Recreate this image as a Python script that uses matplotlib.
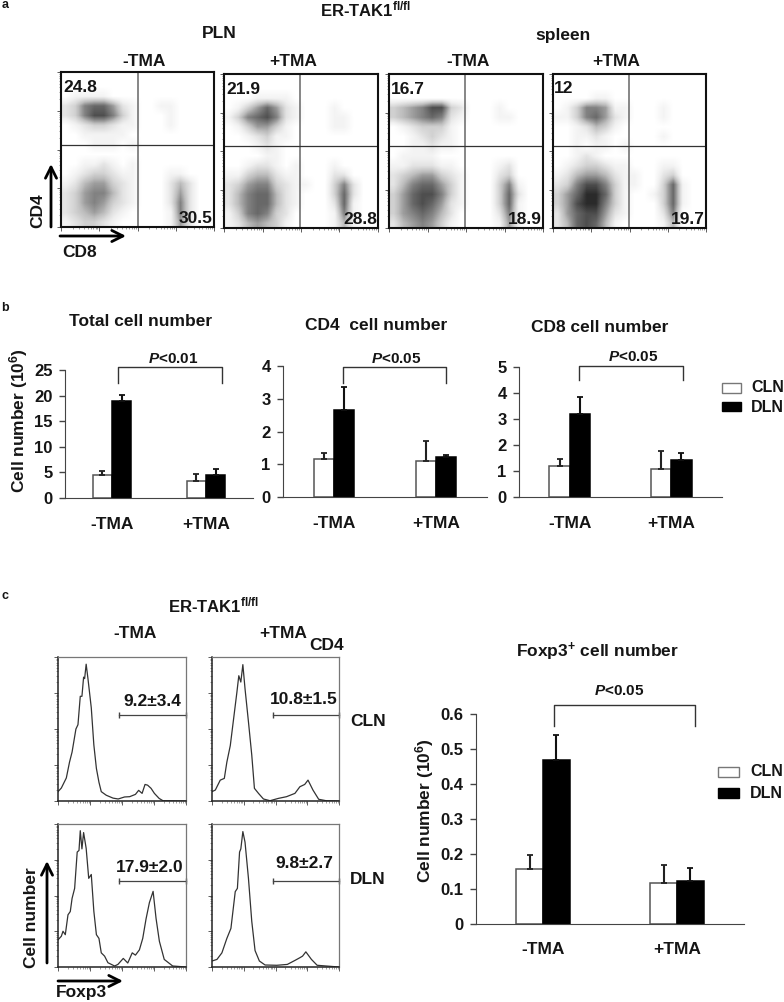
import numpy as np
import matplotlib
matplotlib.use('Agg')
import matplotlib.pyplot as plt
from matplotlib.patches import Rectangle

plt.rcParams['font.family'] = ['Liberation Sans', 'DejaVu Sans']
plt.rcParams['font.weight'] = 'bold'
plt.rcParams['mathtext.fontset'] = 'custom'
plt.rcParams['mathtext.rm'] = 'Liberation Sans:bold'
plt.rcParams['mathtext.bf'] = 'Liberation Sans:bold'
plt.rcParams['mathtext.it'] = 'Liberation Sans:italic:bold'

W, H = 784, 1002
INK = '#151515'

# --- panel a: the single cytometry dots cannot be read one by one, so each
# plot is kept as a coarse density grid estimated by eye (digits 0-9) ---
pln_minus = ["0000000000000000", "0000000000000000", "0111100000000000", "2367752100110000",
             "2368863100010000", "0123321100010000", "0011111000000000", "0001110100000000",
             "0000000000000000", "0011210100000000", "0123321100011000", "1245532100024200",
             "2356642100025200", "2356532100026200", "2345421000016200", "1233210000015200"]
pln_plus = ["0000000000000000", "0000000000000000", "0001111000000000", "0135752100010000",
            "1367862100011000", "0135531000011000", "0012311000000000", "0001210000000000",
            "0000110000000000", "0012210100010000", "1134421100022000", "2356632110036200",
            "2467742100037200", "2467742100027100", "1367632000016100", "1245431000014100"]
spleen_minus = ["0000000000000000", "0000000000000000", "0000000000000000", "3456883200010000",
                "3456762100011000", "0123331000000000", "0012321000000000", "0011211000000000",
                "0111100000000000", "1122211000012000", "2345532100023000", "2467753100036100",
                "3578863100037200", "3578752100037100", "3567642000026100", "2456531000015100"]
spleen_plus = ["0000000000000000", "0000000000000000", "0000110000000000", "0136651100010000",
               "1136752100010000", "0012431000000000", "0011210000010000", "0010110100000000",
               "0012100000000000", "0123321100011000", "1245542110023000", "2368863110037100",
               "3579973100137100", "3589963100037100", "2578852100026000", "2478741000014000"]
flow_grids = [pln_minus, pln_plus, spleen_minus, spleen_plus]
flow_boxes = [(61, 72, 214, 227), (224, 74, 378, 228), (389, 74, 543, 228), (553, 74, 706, 228)]
flow_quads = [(50, 53), (49.5, 53), (49.5, 53), (49.5, 53)]
flow_upper = ['24.8', '21.9', '16.7', '12']
flow_lower = ['30.5', '28.8', '18.9', '19.7']

# --- panel b / c bars ---
groups = ['-TMA', '+TMA']
total_cln, total_cln_err = [4.5, 3.4], [0.8, 1.2]
total_dln, total_dln_err = [19.0, 4.5], [1.2, 1.1]
cd4_cln, cd4_cln_err = [1.15, 1.1], [0.2, 0.62]
cd4_dln, cd4_dln_err = [2.65, 1.23], [0.7, 0.05]
cd8_cln, cd8_cln_err = [1.2, 1.07], [0.25, 0.71]
cd8_dln, cd8_dln_err = [3.2, 1.43], [0.65, 0.25]
foxp3_cln, foxp3_cln_err = [0.157, 0.116], [0.039, 0.052]
foxp3_dln, foxp3_dln_err = [0.47, 0.122], [0.07, 0.038]

# --- panel c histograms, percent of the plot box ---
h1_x = [0, 2.6, 6.5, 9, 11, 14, 15.6, 17.4, 18.7, 20, 20.8, 22, 23.4, 26, 28, 30, 32, 33.8, 37.7, 43, 47, 52, 56, 60.5, 63, 65.7, 68, 70, 72.7, 75.3, 79, 82, 100]
h1_y = [6.5, 9, 16, 27, 34, 50, 53, 72.7, 72.7, 86, 85, 95, 85, 64.7, 39, 22.6, 13, 6.5, 4, 2, 1.4, 2.8, 3, 4.6, 7.4, 5.3, 11.5, 11, 8.8, 5.3, 1.8, 0.2, 0]
h2_x = [0, 2.6, 6.5, 9.7, 11.7, 14.4, 17, 19.6, 21.1, 22.7, 24.3, 26, 28.7, 31.3, 33.4, 36.6, 40.5, 45.7, 52.2, 58.7, 65.3, 69.2, 73, 75.6, 79.5, 84, 89.9, 100]
h2_y = [6.5, 7.6, 14.5, 15.7, 27, 38.5, 57, 75.5, 87, 82.6, 94.7, 78, 55, 32, 8.8, 5.3, 1.4, 0.2, 1.8, 3, 5.3, 9.9, 11.5, 14.5, 7.6, 1.2, 0.2, 0]
h3_x = [0, 2.6, 3.9, 5.7, 7.8, 9.6, 11, 13, 15, 16.4, 17.4, 18.7, 20, 22, 24, 26, 28, 30, 32, 33.8, 36.4, 39, 44.2, 46.8, 51, 54.5, 58, 60.5, 63.6, 66.2, 68.8, 71.4, 74.3, 76.6, 79.2, 83, 89.6, 100]
h3_y = [19, 21.5, 25, 22.6, 36.5, 38.8, 48, 55, 80.4, 81.5, 95.3, 82.6, 94, 83, 62, 64.7, 39, 22.6, 20, 9.9, 7.6, 3, 0.7, 1.8, 6, 2.8, 9.9, 8.3, 12, 20, 33.7, 45, 52.9, 34, 18, 5.3, 0.7, 0]
h4_x = [0, 3.9, 7.8, 11.7, 14.9, 18.3, 20, 21.7, 22.7, 24.3, 26, 28.7, 31.3, 33.9, 37.3, 41.8, 51, 59.3, 65.3, 69.2, 71.3, 73.9, 78.3, 82.8, 100]
h4_y = [4.2, 5.3, 9.9, 20, 27, 52.7, 55, 80.4, 82.6, 94.7, 87.3, 62, 32, 11.5, 4.2, 1.4, 1.2, 1.8, 4.6, 6.5, 7.6, 10.6, 5.3, 1.2, 0]
hist_x = [h1_x, h2_x, h3_x, h4_x]
hist_y = [h1_y, h2_y, h3_y, h4_y]
hist_boxes = [(58, 657, 186, 801), (212, 657, 339, 801), (58, 824, 186, 967), (212, 824, 339, 967)]
gate_labels = ['9.2±3.4', '10.8±1.5', '17.9±2.0', '9.8±2.7']
gate_text_pos = [(152, 702), (304, 699), (150, 867), (304, 864)]

fig = plt.figure(figsize=(W / 100, H / 100), dpi=100)


def px_axes(left, top, right, bottom):
    return fig.add_axes([left / W, 1 - bottom / H, (right - left) / W, (bottom - top) / H])


# overlay in image pixels for all the loose labels, brackets and arrows
page = fig.add_axes([0, 0, 1, 1], zorder=5)
page.set_xlim(0, W)
page.set_ylim(H, 0)
page.axis('off')


def label(x, y, s, size=12.5, **kw):
    page.text(x, y, s, fontsize=size, ha=kw.pop('ha', 'center'), va=kw.pop('va', 'center'),
              color=INK, fontweight='bold', **kw)


def arrow(x0, y0, x1, y1):
    page.annotate('', xy=(x1, y1), xytext=(x0, y0),
                  arrowprops=dict(arrowstyle='->', lw=2, color='black', mutation_scale=20,
                                  shrinkA=0, shrinkB=0))


log_minor = np.log10(np.arange(2, 10)) * 25
log_ticks = np.concatenate([log_minor + d for d in (0, 25, 50, 75)])


def cyto_ticks(ax):
    ax.set_xlim(0, 100)
    ax.set_ylim(0, 100)
    ax.set_xticks([0, 25, 50, 75, 100])
    ax.set_yticks([0, 25, 50, 75, 100])
    ax.set_xticks(log_ticks, minor=True)
    ax.set_yticks(log_ticks, minor=True)
    ax.set_xticklabels([])
    ax.set_yticklabels([])
    ax.tick_params(which='major', length=3, width=0.6, color='#444444')
    ax.tick_params(which='minor', length=1.5, width=0.4, color='#555555')


# panel a
for grid, box, quad, up, low in zip(flow_grids, flow_boxes, flow_quads, flow_upper, flow_lower):
    ax = px_axes(*box)
    dens = np.array([[int(c) for c in row] for row in grid], dtype=float)
    ax.imshow(dens, extent=(0, 100, 0, 100), cmap='Greys', vmin=0, vmax=10.5,
              interpolation='bilinear', aspect='auto')
    ax.axvline(quad[0], color='#666666', lw=1.1)
    ax.axhline(quad[1], color='#333333', lw=0.9)
    cyto_ticks(ax)
    for s in ax.spines.values():
        s.set_linewidth(1.5)
        s.set_color('#111111')
    if up == '12':
        label(box[0] + 11, box[1] + 14, up)
    else:
        label(box[0] + 19, box[1] + 15, up)
    label(box[2] - 18, box[3] - 9, low)

label(5, 5, 'a', size=9)
label(365, 9, r'ER-TAK1$^{\mathbf{fl/fl}}$', size=12)
label(219, 33, 'PLN')
label(563, 35, 'spleen')
for x, s in zip((144, 293, 468, 616), ('-TMA', '+TMA', '-TMA', '+TMA')):
    label(x, 61, s)
label(38, 211, 'CD4', rotation=90)
label(80, 252, 'CD8')
arrow(51, 227, 51, 164)
arrow(60, 236, 126, 236)


def bar_panel(box, ymax, yticks, cln, cln_err, dln, dln_err, width=0.2, pad=14):
    ax = px_axes(*box)
    x = np.arange(len(groups))
    ax.bar(x - width / 2, cln, width, color='white', edgecolor='#555555', lw=1.1,
           yerr=[[0, 0], cln_err], ecolor='#222222',
           error_kw=dict(capsize=2.5, elinewidth=1.5, capthick=1.3))
    ax.bar(x + width / 2, dln, width, color='black', edgecolor='black', lw=1.1,
           yerr=[[0, 0], dln_err], ecolor='#111111',
           error_kw=dict(capsize=2.5, elinewidth=1.5, capthick=1.3))
    ax.set_xlim(-0.5, 1.5)
    ax.set_ylim(0, ymax)
    ax.set_yticks(yticks)
    ax.set_yticklabels([str(t) for t in yticks], color=INK, fontsize=12, fontweight='bold')
    ax.set_xticks(x)
    ax.set_xticklabels(groups, color=INK, fontsize=12.5, fontweight='bold')
    ax.tick_params(axis='x', length=0, pad=pad)
    ax.tick_params(axis='y', length=4, width=1, color='#444444', pad=5)
    ax.spines['top'].set_visible(False)
    ax.spines['right'].set_visible(False)
    ax.spines['left'].set_color('#444444')
    ax.spines['bottom'].set_color('#444444')
    ax.patch.set_alpha(0)
    return ax


def bracket(x0, x1, top, bottom, text, tx, ty):
    page.plot([x0, x0, x1, x1], [bottom, top, top, bottom], color='#333333', lw=1)
    label(tx, ty, r'$\mathit{P}$' + text, size=11)


def legend_keys(x0, x1, y_white, y_black, x_text, y_text):
    page.add_patch(Rectangle((x0, y_white[0]), x1 - x0, y_white[1] - y_white[0],
                             fc='white', ec='#777777', lw=1))
    page.add_patch(Rectangle((x0, y_black[0]), x1 - x0, y_black[1] - y_black[0],
                             fc='black', ec='black', lw=1))
    label(x_text, y_text[0], 'CLN', ha='left', size=11.5)
    label(x_text, y_text[1], 'DLN', ha='left', size=11.5)


# panel b
bar_panel((65, 370, 253, 498), 25, [0, 5, 10, 15, 20, 25], total_cln, total_cln_err, total_dln, total_dln_err, width=0.205)
bar_panel((283, 366, 487, 497), 4, [0, 1, 2, 3, 4], cd4_cln, cd4_cln_err, cd4_dln, cd4_dln_err)
bar_panel((519, 367, 722, 497), 5, [0, 1, 2, 3, 4, 5], cd8_cln, cd8_cln_err, cd8_dln, cd8_dln_err)
label(5, 308, 'b', size=9)
label(141, 322, 'Total cell number')
label(376, 326, 'CD4  cell number')
label(600, 327, 'CD8 cell number')
label(19, 421, r'Cell number (10$^{\mathbf{6}}$)', rotation=90)
bracket(118, 222, 367, 383, '<0.01', 173, 359)
bracket(343, 446, 367, 383, '<0.05', 396, 359)
bracket(579, 683, 366, 380, '<0.05', 633, 357)
legend_keys(722, 741, (383, 393), (402, 411), 751, (388, 408))

# panel c histograms
for xs, ys, box, gate, pos in zip(hist_x, hist_y, hist_boxes, gate_labels, gate_text_pos):
    ax = px_axes(*box)
    ax.plot(xs, ys, color='#333333', lw=0.9)
    cyto_ticks(ax)
    for side in ('top', 'right'):
        ax.spines[side].set_color('#777777')
        ax.spines[side].set_linewidth(0.9)
    for side in ('left', 'bottom'):
        ax.spines[side].set_color('#222222')
        ax.spines[side].set_linewidth(1.1)
    ax.plot([48, 100], [60, 60], color='#444444', lw=0.9, marker='|', ms=5, mew=1, clip_on=False)
    label(pos[0], pos[1], gate)

label(5, 596, 'c', size=9)
label(213, 605, r'ER-TAK1$^{\mathbf{fl/fl}}$', size=12)
label(135, 633, '-TMA')
label(283, 633, '+TMA')
label(327, 646, 'CD4')
label(368, 721, 'CLN')
label(368, 879, 'DLN')
label(32, 918, 'Cell number', rotation=90)
label(81, 993, 'Foxp3')
arrow(47, 963, 47, 861)
arrow(58, 981, 123, 981)

# panel c bars
bar_panel((476, 714, 744, 924), 0.6, [0, 0.1, 0.2, 0.3, 0.4, 0.5, 0.6], foxp3_cln, foxp3_cln_err, foxp3_dln, foxp3_dln_err, pad=13)
label(597, 652, r'Foxp3$^{\mathbf{+}}$ cell number')
label(425, 811, r'Cell number (10$^{\mathbf{6}}$)', rotation=90)
bracket(554, 695, 705, 726, '<0.05', 619, 691)
legend_keys(718, 739, (767, 777), (788, 798), 750, (772, 793))

fig.savefig('out.png', dpi=100)
